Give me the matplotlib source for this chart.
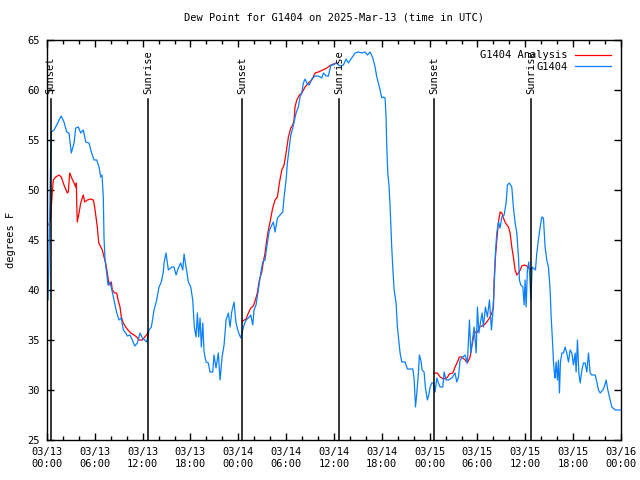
import numpy as np
import pandas as pd
import matplotlib
matplotlib.use("Agg")
import matplotlib.pyplot as plt
import matplotlib.dates as mdates
from matplotlib.ticker import MultipleLocator

# hours since 2025-03-13 00:00 UTC
start = pd.Timestamp("2025-03-13 00:00")

# observed dew point (degrees F)
obs_hours = [0.13, 0.21, 0.46, 0.54, 0.88, 1.22, 1.51, 1.79, 2.13, 2.47, 2.76, 3.05, 3.39, 3.60, 3.93,
             4.23, 4.55, 4.86, 5.27, 5.56, 5.90, 6.24, 6.52, 6.74, 6.90, 7.06, 7.15, 7.28, 7.49, 7.65,
             7.90, 8.19, 8.49, 8.75, 9.03, 9.32, 9.57, 9.87, 10.08, 10.41, 10.70, 11.00, 11.33, 11.67,
             11.96, 12.26, 12.51, 12.80, 13.09, 13.43, 13.76, 14.05, 14.34, 14.59, 14.68, 14.93, 15.22,
             15.65, 15.93, 16.19, 16.47, 16.78, 17.03, 17.19, 17.44, 17.73, 18.03, 18.28, 18.48, 18.70,
             18.86, 19.03, 19.20, 19.36, 19.54, 19.70, 19.95, 20.24, 20.45, 20.79, 20.95, 21.20, 21.49,
             21.71, 21.96, 22.21, 22.46, 22.75, 22.96, 23.17, 23.46, 23.71, 24.00, 24.30, 24.55, 24.72,
             24.97, 25.26, 25.56, 25.81, 25.97, 26.22, 26.51, 26.81, 27.06, 27.35, 27.64, 27.89, 28.39,
             28.61, 28.90, 29.23, 29.57, 29.74, 29.99, 30.15, 30.40, 30.58, 30.83, 30.99, 31.24, 31.53,
             31.74, 31.96, 32.16, 32.37, 32.58, 32.91, 33.21, 33.63, 34.04, 34.47, 34.67, 35.01, 35.30,
             35.60, 35.92, 36.26, 36.76, 37.18, 37.52, 37.80, 38.23, 38.65, 39.06, 39.49, 39.90, 40.19,
             40.53, 40.87, 41.15, 41.37, 41.57, 41.78, 41.99, 42.20, 42.41, 42.53, 42.62, 42.75, 42.91,
             43.04, 43.24, 43.37, 43.54, 43.79, 43.95, 44.08, 44.29, 44.50, 44.92, 45.21, 45.89, 46.06,
             46.22, 46.39, 46.59, 46.71, 46.89, 47.05, 47.30, 47.47, 47.72, 47.89, 48.06, 48.27, 48.47,
             48.68, 48.90, 49.10, 49.31, 49.65, 49.81, 50.06, 50.35, 50.77, 51.19, 51.40, 51.61, 51.82,
             52.15, 52.45, 52.73, 52.99, 53.16, 53.41, 53.58, 53.83, 53.99, 54.17, 54.42, 54.58, 54.74,
             54.99, 55.24, 55.50, 55.75, 55.92, 56.09, 56.25, 56.42, 56.63, 56.84, 57.05, 57.34, 57.59,
             57.75, 58.00, 58.30, 58.50, 58.72, 58.93, 59.14, 59.26, 59.43, 59.69, 59.85, 59.97, 60.10,
             60.26, 60.44, 60.60, 60.69, 60.85, 61.02, 61.27, 61.44, 61.64, 61.86, 62.07, 62.27, 62.48,
             62.69, 62.90, 63.11, 63.24, 63.40, 63.53, 63.65, 63.74, 63.86, 64.03, 64.15, 64.28, 64.40,
             64.58, 64.78, 64.99, 65.20, 65.41, 65.62, 65.83, 66.04, 66.25, 66.37, 66.54, 66.71, 66.88,
             67.09, 67.29, 67.50, 67.72, 67.92, 68.13, 68.34, 68.76, 68.97, 69.17, 69.39, 69.72, 69.89,
             70.14, 70.30, 70.55, 70.85, 71.27, 71.89]
obs_vals = [39, 41.7, 53, 55.8, 56, 56.5, 57, 57.4, 56.8, 55.8, 55.7, 53.7, 54.7, 56.2, 56.3,
            55.7, 56, 54.8, 54.7, 53.8, 53, 53, 52.3, 51.3, 51.5, 49.3, 45.3, 43, 41.7, 40.5,
            40.8, 39.8, 38.7, 37.7, 37, 37.2, 36, 35.7, 35.4, 35.5, 35, 34.4, 34.7, 35.7,
            35.2, 35, 34.8, 36, 36.3, 38, 39, 40.3, 40.8, 41.8, 42.7, 43.7, 42,
            42.3, 42.3, 41.5, 42.2, 42.7, 42, 43.6, 42.3, 40.8, 40.3, 39, 36.3, 35.3,
            37.7, 35.3, 37.2, 34.3, 36.7, 33.8, 32.8, 32.7, 31.8, 31.8, 33.5, 32.2, 33.7,
            31, 33.3, 34.5, 37, 37.7, 36.3, 37.8, 38.8, 36.7, 35.8, 35.2, 36, 36.5,
            37, 37.2, 37.5, 36.5, 38, 38.5, 40, 41.7, 42.8, 43, 44.7, 46, 46.8,
            45.8, 47.2, 47.5, 47.8, 49.3, 51, 52.7, 54.3, 55.5, 56.2, 56.8, 57.7, 58.3,
            59.3, 59.7, 60.7, 61.1, 60.7, 60.5, 61.1, 61.4, 61.4, 61.2, 61.7, 61.4, 61.4,
            62.5, 62.5, 62.7, 62.4, 62.5, 63.1, 62.7, 63.2, 63.7, 63.8, 63.7, 63.8, 63.5,
            63.8, 63.2, 62.3, 61.3, 60.7, 60, 59.2, 59.3, 59.2, 57.3, 54.3, 51.7, 50.3,
            48.3, 44.3, 42.3, 40, 38.7, 36.3, 35.3, 33.7, 32.8, 32.8, 32.1, 32.1, 31,
            28.3, 29.7, 31.7, 33.5, 33, 32, 31.8, 30.2, 29, 29.5, 30.3, 30.7, 30.7,
            29.8, 31.2, 30.7, 30.3, 30.3, 31.8, 31, 31, 31.2, 31.7, 30.8, 31.3, 33,
            33.3, 33.5, 32.7, 37, 33.7, 35.3, 36.3, 33.7, 38.3, 35.7, 37, 37.7, 36.3,
            38.3, 37.3, 39, 36, 37.7, 40.3, 43.7, 45.7, 46.8, 46.2, 47.3, 47.5, 48.7,
            50.5, 50.7, 50.3, 48.3, 46.7, 45.7, 43.3, 41, 40.5, 40.3, 38.5, 41, 38.3,
            42, 42.8, 40.7, 39, 42.3, 42.2, 42, 43.7, 45, 46.3, 47.3, 47.2, 44.3,
            43, 42.3, 40, 37.3, 35, 32.8, 31.7, 31.2, 32.8, 31, 33, 29.7, 32.7,
            33.7, 33.7, 34.3, 33.7, 32.8, 34, 33.7, 32.5, 33.7, 31.8, 35, 31.7, 30.7,
            32, 32.7, 32.7, 31.8, 33.7, 31.7, 31.5, 31.5, 30.8, 30, 29.7, 30, 30.3,
            31, 30.2, 29.3, 28.3, 28, 28]

# analysis, only for the 00-12 UTC windows (nan = gap)
ana_hours = [0.25, 0.45, 0.66, 0.79, 1.09, 1.51, 1.79, 2.13, 2.55, 2.67, 2.85, 3.10, 3.39, 3.60, 3.68,
             3.73, 3.80, 4.02, 4.23, 4.55, 4.73, 5.06, 5.48, 5.81, 5.98, 6.15, 6.31, 6.49, 6.74, 6.94,
             7.15, 7.36, 7.57, 7.78, 8.07, 8.19, 8.49, 8.75, 8.91, 9.16, 9.32, 9.57, 9.87, 10.16, 10.50,
             10.92, 11.25, 11.54, 11.96, 12.26, 12.58, 12.67, 18.0,
             24.55, 24.97, 25.26, 25.56, 25.88, 26.14, 26.38, 26.64, 26.94, 27.14, 27.35, 27.56, 27.77,
             27.98, 28.31, 28.61, 28.90, 29.15, 29.45, 29.74, 29.99, 30.28, 30.58, 30.83, 30.99, 31.11,
             31.33, 31.66, 31.96, 32.37, 32.79, 33.21, 33.63, 34.04, 34.59, 35.09, 35.42, 35.92, 36.35, 42.0,
             48.56, 48.97, 49.31, 49.72, 50.15, 50.48, 50.90, 51.19, 51.48, 51.73, 52.03, 52.45, 52.73,
             53.07, 53.28, 53.48, 53.70, 53.99, 54.24, 54.54, 54.83, 55.17, 55.50, 55.80, 56.00, 56.09,
             56.25, 56.42, 56.63, 56.84, 57.05, 57.25, 57.46, 57.68, 57.88, 58.09, 58.30, 58.50, 58.72,
             58.93, 59.14, 59.35, 59.56, 59.85, 60.19, 60.39, 60.81]
ana_vals = [46.5, 47.3, 49.7, 51, 51.3, 51.5, 51.3, 50.5, 49.7, 49.8, 51.7, 51.2, 50.7, 50.3, 50.7,
            48.7, 46.8, 47.7, 48.7, 49.5, 48.8, 49, 49.1, 49, 48.3, 47.3, 46.3, 44.7, 44.3, 44,
            43.3, 42.7, 41.7, 40.5, 40.8, 40, 39.7, 39.7, 39, 38.3, 37.3, 36.7, 36.3, 36, 35.7,
            35.5, 35.3, 35, 35, 35.3, 35.6, 35.8, np.nan,
            36.9, 37.1, 37.7, 38.2, 38.4, 39, 39.7, 41, 41.8, 42.8, 43.7, 45, 46,
            46.8, 48.2, 49, 49.3, 50.7, 52, 52.5, 53.7, 55.3, 56.2, 56.5, 57, 58.3,
            59, 59.5, 59.7, 60.3, 60.7, 61, 61.7, 61.8, 62, 62.2, 62.4, 62.6, 62.7, np.nan,
            31.7, 31.7, 31.3, 31.1, 31.2, 31.6, 31.7, 32.3, 32.8, 33.3, 33.3, 33, 32.7,
            33.3, 34.3, 35.2, 35.8, 35.8, 36.3, 36.4, 36.5, 36.8, 37.2, 37.7, 38.3, 41,
            43.3, 45, 46.8, 47.8, 47.7, 47.2, 46.8, 46.5, 46.3, 45.7, 44.3, 43.3, 42,
            41.5, 41.7, 42, 42.4, 42.5, 42.4, 42.2, 42.1]

# sunrise / sunset markers
sun_hours = [0.46, 12.71, 24.51, 36.67, 48.60, 60.76]
sun_labels = ["Sunset", "Sunrise", "Sunset", "Sunrise", "Sunset", "Sunrise"]


def to_time(hours):
    return start + pd.to_timedelta(np.asarray(hours, dtype=float), unit="h")


font = "DejaVu Sans Mono"
fs = 7.5
plt.rcParams["font.family"] = font
plt.rcParams["font.size"] = fs

fig = plt.figure(figsize=(6.4, 4.8), dpi=100)
ax = fig.add_axes([47 / 640, 40 / 480, 574 / 640, 400 / 480])

ax.plot(to_time(ana_hours), ana_vals, color="#ff0000", lw=0.9, label="G1404 Analysis")
ax.plot(to_time(obs_hours), obs_vals, color="#0a80ff", lw=0.9, label="G1404")

# sun lines with rotated labels
for h, lab in zip(sun_hours, sun_labels):
    t = to_time([h])[0]
    ax.plot([t, t], [25, 59.1], color="black", lw=1.1)
    ax.text(t, 59.6, lab, rotation=90, ha="center", va="bottom", fontsize=fs)

ax.set_xlim(to_time([0])[0], to_time([72])[0])
ax.set_ylim(25, 65)
ax.yaxis.set_major_locator(MultipleLocator(5))
ax.xaxis.set_major_locator(mdates.HourLocator(byhour=[0, 6, 12, 18]))
ax.xaxis.set_minor_locator(mdates.HourLocator(interval=2))
ax.xaxis.set_major_formatter(mdates.DateFormatter("%m/%d\n%H:%M"))

ax.tick_params(which="both", direction="in", top=True, right=True, width=1)
ax.tick_params(which="major", length=5, pad=5)
ax.tick_params(which="minor", length=3)
for s in ax.spines.values():
    s.set_linewidth(1)

ax.set_ylabel("degrees F", labelpad=8)
ax.set_title("Dew Point for G1404 on 2025-Mar-13 (time in UTC)", pad=14, fontsize=fs)

ax.legend(loc="upper right", frameon=False, markerfirst=False, handlelength=3.4,
          borderaxespad=0.6, labelspacing=0.15, handletextpad=0.7)

fig.savefig("out.png", dpi=100)
